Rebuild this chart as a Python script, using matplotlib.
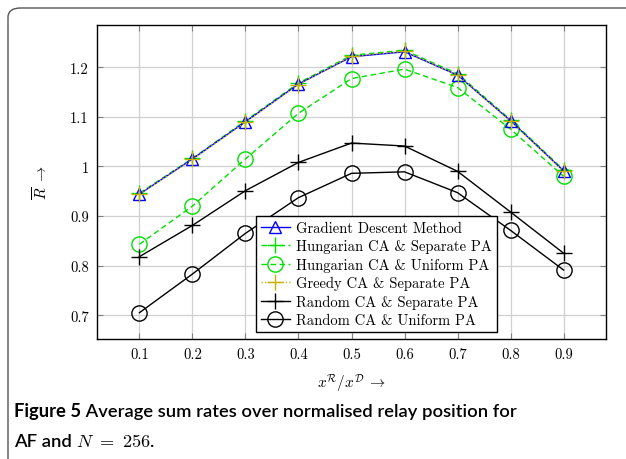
import matplotlib
matplotlib.use("Agg")
from matplotlib import pyplot as plt
from matplotlib.patches import FancyBboxPatch
import numpy as np

plt.rcParams['font.family'] = 'cmr10'
plt.rcParams['mathtext.fontset'] = 'cm'
plt.rcParams['axes.formatter.use_mathtext'] = True
plt.rcParams['axes.unicode_minus'] = False

# Data
positions = [0.1, 0.2, 0.3, 0.4, 0.5, 0.6, 0.7, 0.8, 0.9]
gradient_descent = [0.944, 1.015, 1.090, 1.166, 1.221, 1.231, 1.184, 1.092, 0.991]
hungarian_separate = [0.946, 1.016, 1.092, 1.168, 1.224, 1.234, 1.187, 1.094, 0.993]
hungarian_uniform = [0.843, 0.920, 1.015, 1.107, 1.177, 1.196, 1.159, 1.075, 0.980]
greedy_separate = [0.944, 1.014, 1.089, 1.165, 1.222, 1.232, 1.184, 1.091, 0.990]
random_separate = [0.818, 0.881, 0.951, 1.008, 1.047, 1.041, 0.990, 0.908, 0.825]
random_uniform = [0.705, 0.783, 0.865, 0.937, 0.986, 0.989, 0.947, 0.871, 0.791]

x_ticks = [0.1, 0.2, 0.3, 0.4, 0.5, 0.6, 0.7, 0.8, 0.9]
y_ticks = [0.7, 0.8, 0.9, 1.0, 1.1, 1.2]
y_ticklabels = ['0.7', '0.8', '0.9', '1', '1.1', '1.2']

fig = plt.figure(figsize=(6.26, 4.6), dpi=100)
ax = fig.add_axes([97 / 626, 120 / 460, 509 / 626, 314 / 460])

ax.plot(positions, gradient_descent, color='#0000ff', lw=1.0, marker='^', ms=8,
        mfc='none', mew=1.0, label='Gradient Descent Method', zorder=4)
ax.plot(positions, hungarian_separate, color='#00e000', lw=1.0, ls=(0, (4, 2.5)), marker='+',
        ms=11, mew=1.0, label='Hungarian CA & Separate PA', zorder=3)
ax.plot(positions, hungarian_uniform, color='#00e000', lw=1.0, ls=(0, (4, 2.5)), marker='o',
        ms=11, mfc='none', mew=1.0, label='Hungarian CA & Uniform PA', zorder=3)
ax.plot(positions, greedy_separate, color='#c8b000', lw=1.0, ls=(0, (1, 1.5)), marker='+',
        ms=11, mew=1.0, label='Greedy CA & Separate PA', zorder=5)
ax.plot(positions, random_separate, color='black', lw=1.0, marker='+', ms=11, mew=1.0,
        label='Random CA & Separate PA', zorder=3)
ax.plot(positions, random_uniform, color='black', lw=1.0, marker='o', ms=11, mfc='none',
        mew=1.0, label='Random CA & Uniform PA', zorder=3)

ax.set_xlim(0.02, 0.98)
ax.set_ylim(0.652, 1.285)
ax.set_xticks(x_ticks, [f'{v:.1f}' for v in x_ticks])
ax.set_yticks(y_ticks, y_ticklabels)
ax.grid(True, color='#d0d0d0', lw=0.9)
ax.set_axisbelow(True)
ax.tick_params(direction='in', length=4, width=0.8, color='#808080', top=True, right=True,
               labelsize=10.5, pad=6)
for s in ax.spines.values():
    s.set_linewidth(1.0)

ax.set_xlabel(r'$x^{\mathcal{R}}/x^{\mathcal{D}}\;\rightarrow$', fontsize=11, labelpad=8)
ax.set_ylabel(r'$\overline{R}\;\rightarrow$', fontsize=11, labelpad=14)

leg = ax.legend(loc='lower left', bbox_to_anchor=(0.312, 0.022), fontsize=10.5,
                frameon=True, fancybox=False, edgecolor='black', framealpha=1,
                handlelength=2.0, handletextpad=0.4, borderpad=0.35, labelspacing=0.3,
                borderaxespad=0)
leg.get_frame().set_linewidth(1.0)
leg.set_zorder(10)

# frame around the figure
frame = FancyBboxPatch((8 / 626, -0.1), 1.2, 1.1 - 9 / 460,
                       boxstyle='round,pad=0,rounding_size=0.02',
                       transform=fig.transFigure, fill=False, ec='#555555', lw=1.0)
fig.patches.append(frame)

# caption
t1 = fig.text(14 / 626, 1 - 417 / 460, 'Figure 5', fontsize=13.2, fontweight='bold',
              family='Lato', va='baseline')
ax.annotate(' Average sum rates over normalised relay position for', xy=(1, 0),
            xycoords=t1, fontsize=13.2, family='Lato', fontweight='semibold',
            va='bottom', ha='left', annotation_clip=False)
t2 = fig.text(14 / 626, 1 - 447 / 460, 'AF and ', fontsize=13.2, fontweight='semibold',
              family='Lato', va='baseline')
ax.annotate(r'$N\ \mathbf{=\ 256}$.', xy=(1, 0), xycoords=t2, fontsize=13.2,
            family='Lato', fontweight='semibold', va='bottom', ha='left',
            annotation_clip=False)

fig.savefig('out.png', dpi=100)
